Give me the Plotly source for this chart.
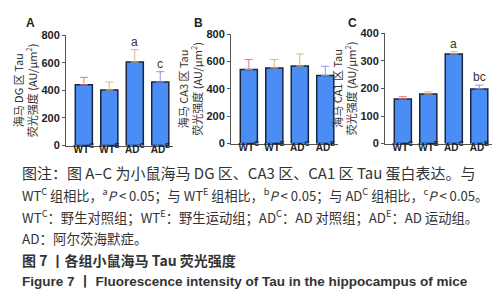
import plotly.graph_objects as go

W, H = 504, 300

categories = ["WT<sup>C</sup>", "WT<sup>E</sup>", "AD<sup>C</sup>", "AD<sup>E</sup>"]

dg_values = [440, 402, 605, 460]
dg_err = [54, 58, 90, 75]
dg_marks = ["", "", "a", "c"]

ca3_values = [541, 553, 567, 497]
ca3_err = [74, 62, 88, 68]
ca3_marks = ["", "", "", ""]

ca1_values = [162, 180, 325, 198]
ca1_err = [8, 7, 8, 14]
ca1_marks = ["", "", "a", "bc"]

panels = [
    dict(letter="A", values=dg_values, err=dg_err, marks=dg_marks, ymax=800, dtick=200,
         region="DG", xpx=(58, 165), ypx=(137, 22), letter_x=22),
    dict(letter="B", values=ca3_values, err=ca3_err, marks=ca3_marks, ymax=800, dtick=200,
         region="CA3", xpx=(223, 330), ypx=(135, 21), letter_x=190),
    dict(letter="C", values=ca1_values, err=ca1_err, marks=ca1_marks, ymax=400, dtick=100,
         region="CA1", xpx=(377, 484), ypx=(135, 20), letter_x=344),
]

err_colors = ["#e07a7a", "#e8b47a", "#d9b98e", "#8f8fe6"]
bar_fill = "#4a8ef5"
bar_line = "#1b2540"
font_latin = "Liberation Sans, Noto Sans CJK SC, sans-serif"
font_cjk = "Noto Sans CJK SC, sans-serif"

fig = go.Figure()
layout = dict(
    width=W, height=H, margin=dict(l=0, r=0, t=0, b=0),
    paper_bgcolor="white", plot_bgcolor="white", showlegend=False,
)
annotations = []

for i, p in enumerate(panels):
    sfx = "" if i == 0 else str(i + 1)
    xa, ya = "x" + sfx, "y" + sfx
    for j, cat in enumerate(categories):
        fig.add_trace(go.Bar(
            x=[j], y=[p["values"][j]], xaxis=xa, yaxis=ya, width=0.67,
            marker=dict(color=bar_fill, line=dict(color=bar_line, width=1.5)),
            error_y=dict(type="data", symmetric=False, array=[p["err"][j]], arrayminus=[0],
                         color=err_colors[j], thickness=1, width=4),
            hoverinfo="skip",
        ))
        if p["marks"][j]:
            annotations.append(dict(
                x=j, y=p["values"][j] + p["err"][j], xref=xa, yref=ya,
                text=p["marks"][j], showarrow=False, yanchor="bottom", yshift=-1,
                font=dict(family=font_latin, size=12, color="#333333"),
            ))
    x0, x1 = p["xpx"]
    yb, yt = p["ypx"]
    layout["xaxis" + sfx] = dict(
        domain=[x0 / W, x1 / W], anchor=ya, range=[-0.7, 3.5],
        tickmode="array", tickvals=[0, 1, 2, 3], ticktext=categories,
        showline=True, linecolor="#555555", linewidth=1, ticks="", showgrid=False,
        zeroline=False,
        tickfont=dict(family=font_latin, size=10, color="#222222", weight="bold"),
        ticklabelstandoff=-6, fixedrange=True,
    )
    layout["yaxis" + sfx] = dict(
        domain=[1 - yb / H, 1 - yt / H], anchor=xa, range=[0, p["ymax"]],
        dtick=p["dtick"], showline=True, linecolor="#555555", linewidth=1,
        ticks="outside", ticklen=3, tickcolor="#555555", showgrid=False, zeroline=False,
        tickfont=dict(family=font_latin, size=11, color="#222222", weight="bold"),
        fixedrange=True,
        title=dict(
            text="海马 " + p["region"] + " 区 Tau<br>荧光强度 (AU/μm<sup>2</sup>)",
            standoff=1, font=dict(family=font_cjk, size=11, color="#333333"),
        ),
    )
    annotations.append(dict(
        x=p["letter_x"] / W, y=1 - 9 / H, xref="paper", yref="paper",
        text="<b>" + p["letter"] + "</b>", showarrow=False, xanchor="center", yanchor="middle",
        font=dict(family=font_latin, size=12, color="#222222"),
    ))

caption_lines = [
    "图注：图 A–C 为小鼠海马 DG 区、CA3 区、CA1 区 Tau 蛋白表达。与",
    "WT<sup>C</sup> 组相比，<sup>a</sup><i>P</i> &lt; 0.05；与 WT<sup>E</sup> 组相比，<sup>b</sup><i>P</i> &lt; 0.05；与 AD<sup>C</sup> 组相比，<sup>c</sup><i>P</i> &lt; 0.05。",
    "WT<sup>C</sup>：野生对照组；WT<sup>E</sup>：野生运动组；AD<sup>C</sup>：AD 对照组；AD<sup>E</sup>：AD 运动组。",
    "AD：阿尔茨海默症。",
]
caption_y = [165, 188, 210.5, 233]
caption_size = [15, 13.1, 13.3, 13.5]
for txt, yy, sz in zip(caption_lines, caption_y, caption_size):
    annotations.append(dict(
        x=12 / W, y=1 - yy / H, xref="paper", yref="paper", text=txt,
        showarrow=False, xanchor="left", yanchor="middle",
        font=dict(family=font_cjk, size=sz, color="#333333"),
    ))

annotations.append(dict(
    x=12 / W, y=1 - 256 / H, xref="paper", yref="paper",
    text="<b>图 7 丨各组小鼠海马 Tau 荧光强度</b>", showarrow=False,
    xanchor="left", yanchor="middle", font=dict(family=font_cjk, size=14, color="#333333"),
))
annotations.append(dict(
    x=12 / W, y=1 - 279 / H, xref="paper", yref="paper",
    text="<b>Figure 7 丨 Fluorescence intensity of Tau in the hippocampus of mice</b>",
    showarrow=False, xanchor="left", yanchor="middle",
    font=dict(family=font_latin, size=13.5, color="#333333"),
))

layout["annotations"] = annotations
fig.update_layout(**layout)
fig.write_html("out.html", config={"displayModeBar": False})
